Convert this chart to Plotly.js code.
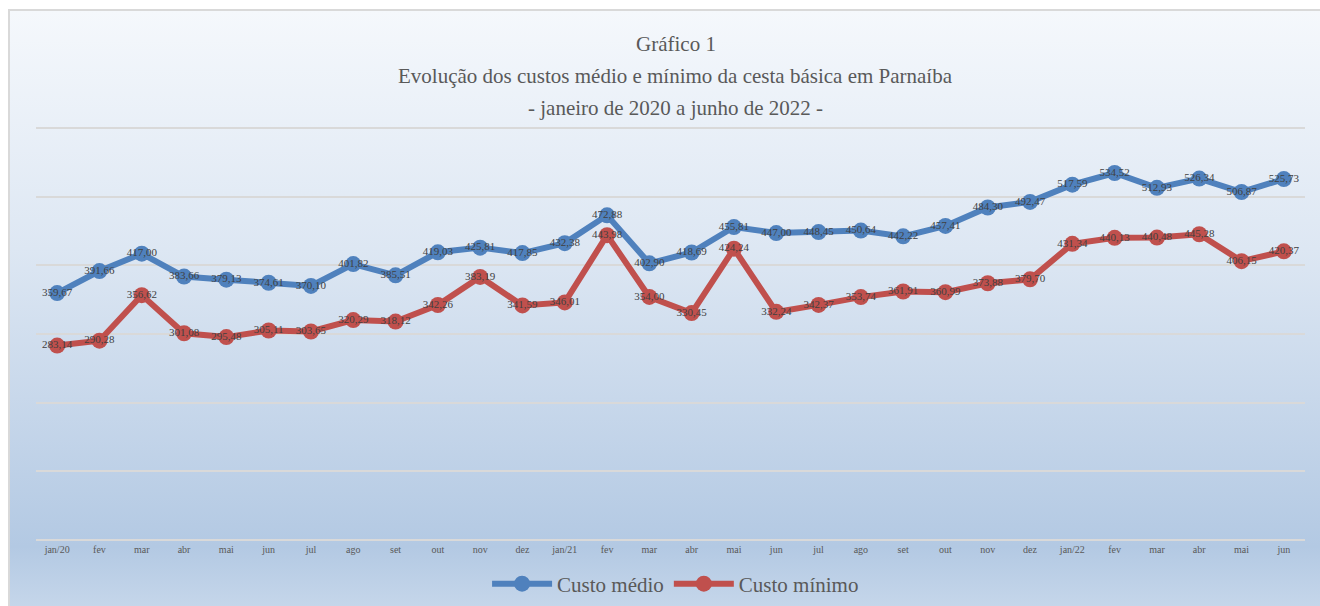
<!DOCTYPE html>
<html>
<head>
<meta charset="utf-8">
<script src="https://cdn.plot.ly/plotly-3.0.1.min.js"></script>
<style>
  html, body { margin: 0; padding: 0; background: #ffffff; width: 1320px; height: 606px; overflow: hidden; }
  #frame {
    position: absolute; left: 8px; top: 9px; width: 1312px; height: 597px;
    box-sizing: border-box; border: 2px solid #d9d9d9; border-right: none; border-bottom: none;
    background: linear-gradient(to bottom, #f5f8fc 0%, #dde7f3 40%, #b3c9e3 90%, #c5d6ea 100%);
  }
  #chart { position: absolute; left: 8px; top: 9px; width: 1312px; height: 597px; }
</style>
</head>
<body>
<div id="frame"></div>
<div id="chart"></div>
<script>
const months = ["jan/20","fev","mar","abr","mai","jun","jul","ago","set","out","nov","dez",
  "jan/21","fev","mar","abr","mai","jun","jul","ago","set","out","nov","dez",
  "jan/22","fev","mar","abr","mai","jun"];
const custoMedio = [359.67,391.66,417.00,383.66,379.13,374.61,370.10,401.82,385.51,419.03,425.81,417.85,
  432.38,472.88,402.90,418.69,455.81,447.00,448.45,450.64,442.22,457.41,484.30,492.47,
  517.59,534.52,512.93,526.34,506.87,525.73];
const custoMinimo = [283.14,290.28,356.62,301.08,295.48,305.11,303.65,320.29,318.12,342.26,383.19,341.59,
  346.01,443.98,354.00,330.45,424.24,332.24,342.37,353.74,361.91,360.99,373.88,379.70,
  431.34,440.13,440.48,445.28,406.15,420.37];
const seriesNames = ["Custo médio","Custo mínimo"];
const titleLines = ["Gráfico 1","Evolução dos custos médio e mínimo da cesta básica em Parnaíba","- janeiro de 2020 a junho de 2022 -"];
const yTicks = [0,100,200,300,400,500,600];

const xIdx = months.map((m,i)=>i);
const serif = "Liberation Serif, Times New Roman, serif";

function mk(name, y, color) {
  return {
    type: "scatter", mode: "lines+markers+text", name: name,
    x: xIdx, y: y,
    line: { color: color, width: 6 },
    marker: { color: color, size: 16 },
    texttemplate: "%{y:.2f}", textposition: "middle center",
    textfont: { family: serif, size: 11, color: "#404040" },
    hoverinfo: "skip", cliponaxis: false
  };
}

const data = [mk(seriesNames[0], custoMedio, "#4f81bd"), mk(seriesNames[1], custoMinimo, "#c0504d")];

const T = 117, B = 64, H = 597 - T - B;
// title lines centred at page y 44, 76, 108 (div offset 9)
const titleYpx = [35, 67, 99];
const annotations = titleLines.map((t,i)=>({
  text: t, xref: "paper", yref: "paper", x: 0.504, y: 1 + (T - titleYpx[i]) / H,
  xanchor: "center", yanchor: "middle", showarrow: false,
  font: { family: serif, size: 21, color: "#595959" }
}));

const layout = {
  width: 1312, height: 597,
  margin: { l: 28, r: 15, t: T, b: B, autoexpand: false },
  paper_bgcolor: "rgba(0,0,0,0)", plot_bgcolor: "rgba(0,0,0,0)",
  separators: ",.",
  showlegend: true,
  legend: {
    orientation: "h", x: 0.504, xanchor: "center", yref: "container", y: 1 - 575/597, yanchor: "middle",
    font: { family: serif, size: 21, color: "#595959" },
    bgcolor: "rgba(0,0,0,0)", itemwidth: 60, tracegroupgap: 0
  },
  xaxis: {
    type: "linear", range: [-0.5, 29.5], tickmode: "array", tickvals: xIdx, ticktext: months,
    showgrid: false, zeroline: false, showline: false, ticks: "", automargin: false,
    tickfont: { family: serif, size: 10, color: "#595959" }, fixedrange: true
  },
  yaxis: {
    range: [-3, 603], tickmode: "array", tickvals: yTicks,
    showticklabels: false, ticks: "", automargin: false,
    showgrid: true, gridcolor: "#d9d9d9", gridwidth: 2,
    zeroline: true, zerolinecolor: "#d9d9d9", zerolinewidth: 2, showline: false, fixedrange: true
  },
  annotations: annotations
};

Plotly.newPlot("chart", data, layout, { displayModeBar: false, staticPlot: true });
</script>
</body>
</html>
